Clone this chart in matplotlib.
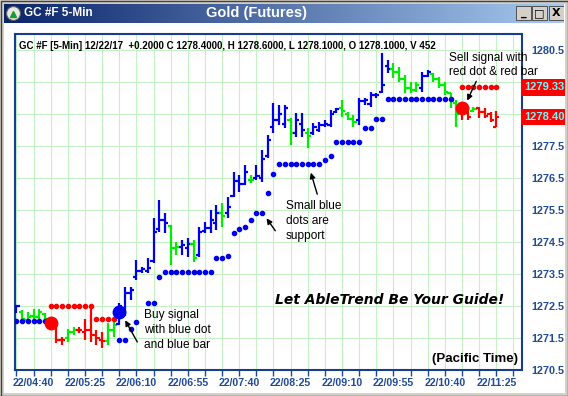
import matplotlib
matplotlib.use('Agg')
import matplotlib.pyplot as plt
from matplotlib.colors import LinearSegmentedColormap
from matplotlib.patches import Rectangle
from matplotlib.transforms import blended_transform_factory
import numpy as np

plt.rcParams['font.family'] = ['Liberation Sans', 'DejaVu Sans']

# bar 0 = 22/04:40, one bar every 5 minutes
bar_idx = list(range(-3, 82))
opens = [1272.30, 1272.30, 1272.05, 1272.20, 1272.15, 1272.25, 1272.05, 1271.80, 1271.45, 1271.50,
         1271.70, 1271.75, 1271.70, 1271.75, 1271.60, 1271.45, 1271.40, 1271.75, 1271.95, 1272.40,
         1272.90, 1273.40, 1273.60, 1273.60, 1273.90, 1274.90, 1275.20, 1275.00, 1274.30, 1274.35,
         1274.30, 1274.45, 1274.10, 1274.85, 1274.95, 1275.10, 1275.40, 1275.40, 1275.95, 1276.40,
         1276.30, 1276.45, 1276.50, 1276.50, 1277.20, 1278.10, 1278.30, 1278.20, 1278.30, 1277.90,
         1278.20, 1277.90, 1277.90, 1278.00, 1278.15, 1278.15, 1278.55, 1278.70, 1278.50, 1278.35,
         1278.30, 1278.90, 1278.80, 1279.10, 1279.20, 1280.00, 1279.90, 1279.80, 1279.60, 1279.30,
         1279.25, 1279.30, 1279.70, 1279.75, 1279.60, 1279.40, 1279.15, 1278.85, 1278.60, 1278.65,
         1278.60, 1278.70, 1278.55, 1278.50, 1278.10]
highs = [1272.53, 1272.38, 1272.31, 1272.41, 1272.41, 1272.28, 1272.10, 1271.84, 1271.53, 1271.78,
         1271.84, 1271.84, 1272.09, 1272.50, 1271.75, 1271.69, 1271.97, 1272.06, 1272.60, 1273.09,
         1273.09, 1273.94, 1273.72, 1274.00, 1275.25, 1275.81, 1275.41, 1275.03, 1274.50, 1274.56,
         1274.63, 1274.56, 1274.97, 1275.13, 1275.50, 1275.66, 1275.72, 1275.91, 1276.69, 1276.59,
         1276.91, 1276.59, 1276.91, 1277.38, 1277.84, 1278.84, 1278.78, 1278.78, 1278.38, 1278.53,
         1278.53, 1278.06, 1278.22, 1278.25, 1278.31, 1278.63, 1278.69, 1278.94, 1278.56, 1278.47,
         1279.00, 1279.00, 1279.19, 1279.16, 1280.41, 1280.19, 1280.09, 1279.97, 1279.72, 1279.50,
         1279.50, 1279.81, 1279.88, 1279.78, 1279.66, 1279.50, 1279.16, 1278.95, 1278.69, 1278.72,
         1278.72, 1278.72, 1278.69, 1278.56, 1278.60]
lows = [1272.28, 1272.03, 1271.97, 1272.09, 1272.00, 1272.06, 1271.75, 1271.34, 1271.28, 1271.38,
        1271.59, 1271.66, 1271.44, 1271.38, 1271.28, 1271.19, 1271.28, 1271.53, 1271.90, 1272.20,
        1272.69, 1273.31, 1273.53, 1273.53, 1273.84, 1274.81, 1274.78, 1273.78, 1274.09, 1274.09,
        1274.03, 1273.88, 1274.03, 1274.78, 1274.78, 1274.88, 1274.97, 1275.25, 1275.91, 1276.06,
        1276.28, 1276.34, 1276.44, 1276.38, 1277.13, 1277.91, 1278.16, 1278.06, 1277.53, 1277.78,
        1277.78, 1277.44, 1277.84, 1277.94, 1278.09, 1278.09, 1278.53, 1278.41, 1278.31, 1278.09,
        1278.16, 1278.78, 1278.72, 1279.00, 1279.16, 1279.78, 1279.63, 1279.50, 1279.16, 1279.16,
        1279.19, 1279.19, 1279.66, 1279.50, 1279.31, 1279.09, 1278.69, 1278.09, 1278.31, 1278.31,
        1278.56, 1278.38, 1278.38, 1278.25, 1278.10]
closes = [1272.50, 1272.10, 1272.15, 1272.15, 1272.30, 1272.10, 1271.85, 1271.45, 1271.45, 1271.70,
          1271.75, 1271.75, 1271.75, 1271.60, 1271.50, 1271.40, 1271.75, 1271.90, 1272.50, 1272.90,
          1273.00, 1273.60, 1273.65, 1273.70, 1274.80, 1275.20, 1275.10, 1274.30, 1274.35, 1274.40,
          1274.45, 1274.00, 1274.80, 1274.95, 1275.20, 1275.40, 1275.30, 1275.60, 1276.40, 1276.30,
          1276.70, 1276.45, 1276.55, 1277.10, 1277.70, 1278.30, 1278.50, 1278.70, 1277.90, 1278.30,
          1278.00, 1277.80, 1278.10, 1278.15, 1278.20, 1278.50, 1278.65, 1278.60, 1278.35, 1278.25,
          1278.90, 1278.95, 1279.10, 1279.10, 1279.40, 1279.90, 1279.80, 1279.60, 1279.30, 1279.25,
          1279.40, 1279.70, 1279.80, 1279.60, 1279.40, 1279.20, 1278.90, 1278.50, 1278.50, 1278.40,
          1278.65, 1278.55, 1278.45, 1278.30, 1278.40]
# b = uptrend, g = caution, r = downtrend
trend = ("bggggg" "rrr" "gg" "rrrrr" "gg" "bbbbbbbbb" "gg" "bb" "g" "bbbb" "g" "bbbb" "g"
         "bbbbbb" "g" "bb" "g" "bbbbb" "ggg" "bbbbbb" "ggggg" "bb" "ggggg" "rr" "g" "rrrr")

support_idx = [-3, -2, -1, 0, 1, 2, 15, 16, 17, 18, 20, 21, 22,
               23, 24, 25, 26, 27, 28, 29, 30, 31, 32, 33, 34, 35, 36, 37, 38, 39, 40, 41, 42,
               43, 44, 45, 46, 47, 48, 49, 50, 51, 52, 53, 54, 55, 56, 57, 58, 59, 60, 61,
               62, 63, 64, 65, 66, 67, 68, 69, 70, 71, 72, 73]
support_val = [1272.03, 1272.03, 1272.03, 1272.03, 1272.03, 1272.03,
               1271.44, 1271.44, 1271.78, 1272.00, 1272.59, 1272.59, 1273.41,
               1273.56, 1273.56, 1273.56, 1273.56, 1273.56, 1273.56, 1273.56, 1273.56, 1273.56,
               1274.00, 1274.00, 1274.06, 1274.78, 1274.91, 1274.97, 1275.19, 1275.41, 1275.41,
               1276.03, 1276.63,
               1276.94, 1276.94, 1276.94, 1276.94, 1276.94, 1276.94, 1276.94, 1276.94,
               1277.06, 1277.19, 1277.63, 1277.63, 1277.63, 1277.63, 1277.63,
               1278.06, 1278.06, 1278.34, 1278.34,
               1278.97, 1278.97, 1278.97, 1278.97, 1278.97, 1278.97, 1278.97, 1278.97,
               1278.97, 1278.97, 1278.97, 1278.97]
resist_idx = [3, 4, 5, 6, 7, 8, 9, 10, 11, 12, 13, 14, 75, 76, 77, 78, 79, 80, 81]
resist_val = [1272.50, 1272.50, 1272.50, 1272.50, 1272.50, 1272.50, 1272.50, 1272.50,
              1272.09, 1272.09, 1272.09, 1272.09,
              1279.33, 1279.33, 1279.33, 1279.33, 1279.33, 1279.33, 1279.33]
sell_idx = [3, 75]
sell_val = [1271.97, 1278.69]
buy_idx = [15]
buy_val = [1272.31]

tick_pos = [0, 9, 18, 27, 36, 45, 54, 63, 72, 81]
tick_lab = ['22/04:40', '22/05:25', '22/06:10', '22/06:55', '22/07:40',
            '22/08:25', '22/09:10', '22/09:55', '22/10:40', '22/11:25']
price_ticks = [1270.5, 1271.5, 1272.5, 1273.5, 1274.5, 1275.5, 1276.5, 1277.5,
               1278.5, 1279.5, 1280.5]
# 1278.5 and 1279.5 sit under the red price boxes
price_lab = ['1270.5', '1271.5', '1272.5', '1273.5', '1274.5', '1275.5', '1276.5', '1277.5',
             '', '', '1280.5']
box_vals = [1279.33, 1278.40]

W, H = 568, 396
col = {'b': '#0000ee', 'g': '#00ee00', 'r': '#ff0000'}
axis_blue = '#1f4a9a'

fig = plt.figure(figsize=(W / 100, H / 100), dpi=100)
fig.patch.set_facecolor('white')

# ---- window title bar ----
tb = fig.add_axes([4 / W, 1 - 23 / H, 560 / W, 20 / H])
cmap = LinearSegmentedColormap.from_list('tb', ['#0a246a', '#a6caf0'])
tb.imshow(np.linspace(0, 1, 256)[None, :], aspect='auto', cmap=cmap, extent=[0, 560, 20, 0])
tb.set_xlim(0, 560)
tb.set_ylim(20, 0)
tb.axis('off')
tb.plot([9], [10], 'o', ms=10, mfc='#e8e8e8', mec='#606060', mew=0.8)
tb.plot([9], [10.5], '^', ms=5, color='#1a9a30')
tb.text(20, 10.5, 'GC #F 5-Min', color='white', fontsize=8.5, fontweight='bold', va='center')
tb.text(252, 9.5, 'Gold (Futures)', color='white', fontsize=10.5, fontweight='bold',
        va='center', ha='center')
for bx, glyph in zip([512, 528, 545], ['_', '□', 'X']):
    tb.add_patch(Rectangle((bx, 3), 15, 14, fc='#d4d0c8', ec='#404040', lw=0.6))
    tb.text(bx + 7.5, 10.5, glyph, fontsize=8, fontweight='bold', ha='center', va='center',
            family='DejaVu Sans')

# window border
fig.patches.append(Rectangle((0, 0), 1, 1, transform=fig.transFigure, fill=False,
                             ec='#d4d0c8', lw=5, zorder=0))
fig.patches.append(Rectangle((0.5 / W, 0.5 / H), 1 - 1 / W, 1 - 1 / H, transform=fig.transFigure,
                             fill=False, ec='#404040', lw=1, zorder=0))

# ---- price chart ----
ax = fig.add_axes([15 / W, 1 - 370 / H, 507 / W, 336 / H])
ax.set_xlim(-3.25, 85.5)
ax.set_ylim(1270.5, 1281.0)

for i, o, h, l, c, t in zip(bar_idx, opens, highs, lows, closes, trend):
    ax.vlines(i, l, h, color=col[t], lw=1.6, zorder=3)
    ax.hlines(o, i - 0.55, i, color=col[t], lw=1.6, zorder=3)
    ax.hlines(c, i, i + 0.55, color=col[t], lw=1.6, zorder=3)

ax.plot(support_idx, support_val, 'o', ms=3, color='#0000ee', ls='none', zorder=4)
ax.plot(resist_idx, resist_val, 'o', ms=3, color='#ff0000', ls='none', zorder=4)
ax.plot(sell_idx, sell_val, 'o', ms=9, color='#ff0000', ls='none', zorder=5)
ax.plot(buy_idx, buy_val, 'o', ms=9, color='#0000ee', ls='none', zorder=5)

ax.set_xticks(tick_pos)
ax.set_xticklabels(tick_lab)
ax.set_xticks(range(-3, 86, 3), minor=True)
ax.set_yticks(price_ticks)
ax.set_yticklabels(price_lab)
ax.yaxis.tick_right()
ax.tick_params(axis='y', length=0, pad=7, labelsize=7.8, labelcolor=axis_blue)
ax.tick_params(axis='x', which='both', length=4, width=1, color=axis_blue, pad=2,
               labelsize=7.6, labelcolor=axis_blue)
for lbl in ax.get_xticklabels() + ax.get_yticklabels():
    lbl.set_fontweight('bold')
ax.grid(True, which='both', color='#c4f2c4', lw=0.8, zorder=0)
for s in ax.spines.values():
    s.set_color('#1a3c8c')
    s.set_linewidth(1.5)

# resistance / last price boxes on the right edge
bt = blended_transform_factory(ax.transAxes, ax.transData)
for v in box_vals:
    ax.text(1.004, v, f'{v:.2f}', transform=bt, color='#66ffff', fontsize=8, fontweight='bold',
            va='center', ha='left', clip_on=False, zorder=10,
            bbox=dict(boxstyle='square,pad=0.28', fc='#ff0000', ec='none'))

# header line
fig.text(19 / W, 1 - 46 / H,
         'GC #F [5-Min] 12/22/17  +0.2000 C 1278.4000, H 1278.6000, L 1278.1000, '
         'O 1278.1000, V 452', fontsize=7.0, fontweight='bold', va='center')

# notes
arrow = dict(arrowstyle='-|>', color='black', lw=1, mutation_scale=8)
ax.text(19.3, 1272.4, 'Buy signal\nwith blue dot\nand blue bar', fontsize=8.6, va='top',
        linespacing=1.3, zorder=6)
ax.annotate('', xy=(15.8, 1272.13), xytext=(18.4, 1271.3), arrowprops=arrow, zorder=6)
ax.text(44.2, 1275.8, 'Small blue\ndots are\nsupport', fontsize=8.6, va='top',
        linespacing=1.3, zorder=6)
ax.annotate('', xy=(40.5, 1275.31), xytext=(42.6, 1274.78), arrowprops=arrow, zorder=6)
ax.annotate('', xy=(48.4, 1276.75), xytext=(49.8, 1275.91), arrowprops=arrow, zorder=6)
ax.text(72.8, 1280.45, 'Sell signal with\nred dot & red bar', fontsize=8.6, va='top',
        linespacing=1.3, zorder=6, clip_on=False)
ax.annotate('', xy=(75.7, 1278.84), xytext=(77.7, 1279.6), arrowprops=arrow, zorder=6)

ax.text(0.738, 0.208, 'Let AbleTrend Be Your Guide!', transform=ax.transAxes, fontsize=10,
        fontweight='bold', fontstyle='italic', family='DejaVu Sans', ha='center', va='center')
ax.text(0.992, 0.033, '(Pacific Time)', transform=ax.transAxes, fontsize=9.5,
        fontweight='bold', ha='right', va='center')

fig.savefig('out.png', dpi=100)
